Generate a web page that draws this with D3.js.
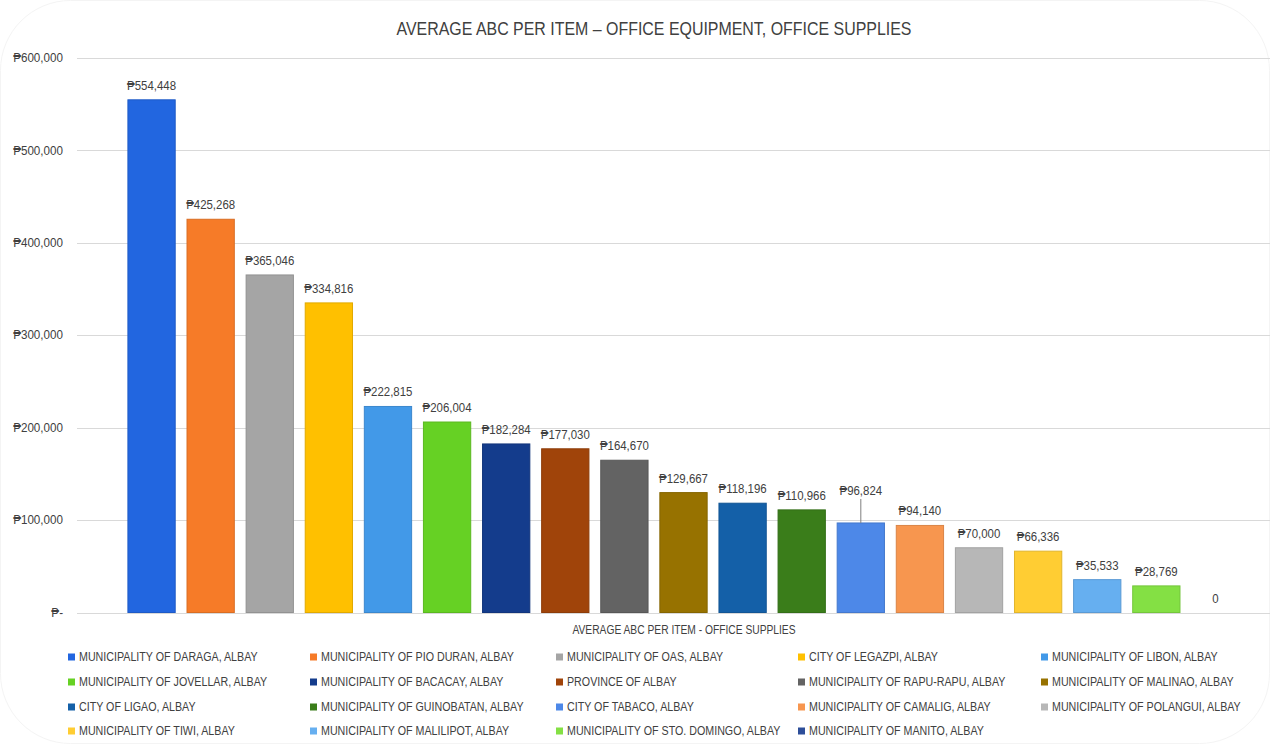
<!DOCTYPE html>
<html>
<head>
<meta charset="utf-8">
<script src="https://cdn.jsdelivr.net/npm/d3@7"></script>
<style>
  html, body { margin: 0; padding: 0; background: #fff; }
  svg { display: block; }
  text { font-family: "Liberation Sans", Arial, sans-serif; fill: #404040; }
</style>
</head>
<body>
<script>
const categories = [
  "MUNICIPALITY OF DARAGA, ALBAY",
  "MUNICIPALITY OF PIO DURAN, ALBAY",
  "MUNICIPALITY OF OAS, ALBAY",
  "CITY OF LEGAZPI, ALBAY",
  "MUNICIPALITY OF LIBON, ALBAY",
  "MUNICIPALITY OF JOVELLAR, ALBAY",
  "MUNICIPALITY OF BACACAY, ALBAY",
  "PROVINCE OF ALBAY",
  "MUNICIPALITY OF RAPU-RAPU, ALBAY",
  "MUNICIPALITY OF MALINAO, ALBAY",
  "CITY OF LIGAO, ALBAY",
  "MUNICIPALITY OF GUINOBATAN, ALBAY",
  "CITY OF TABACO, ALBAY",
  "MUNICIPALITY OF CAMALIG, ALBAY",
  "MUNICIPALITY OF POLANGUI, ALBAY",
  "MUNICIPALITY OF TIWI, ALBAY",
  "MUNICIPALITY OF MALILIPOT, ALBAY",
  "MUNICIPALITY OF STO. DOMINGO, ALBAY",
  "MUNICIPALITY OF MANITO, ALBAY"
];
const values = [554448, 425268, 365046, 334816, 222815, 206004, 182284, 177030, 164670,
                129667, 118196, 110966, 96824, 94140, 70000, 66336, 35533, 28769, 0];
const colors = ["#2266E0", "#F67B28", "#A5A5A5", "#FFC000", "#4299E8", "#66D124", "#143C8C",
                "#A0440A", "#636363", "#977200", "#1460A8", "#3A7D1A", "#4D88E8", "#F7964F",
                "#B7B7B7", "#FFCD33", "#66AFF0", "#84E044", "#2D4E99"];
const yTicks = [0, 100000, 200000, 300000, 400000, 500000, 600000];
const title = "AVERAGE ABC PER ITEM \u2013 OFFICE EQUIPMENT, OFFICE SUPPLIES";
const axisTitle = "AVERAGE ABC PER ITEM - OFFICE SUPPLIES";

const W = 1270, H = 744;
const svg = d3.select("body").append("svg").attr("width", W).attr("height", H);

function condense(sel, f) {
  sel.each(function () {
    const L = this.getComputedTextLength();
    if (L > 0) d3.select(this).attr("textLength", L * f).attr("lengthAdjust", "spacingAndGlyphs");
  });
}

svg.append("rect").attr("x", 0.5).attr("y", 0.5).attr("width", W - 1).attr("height", H - 1)
  .attr("rx", 70).attr("fill", "#fff").attr("stroke", "#f4f4f4");

const y = d3.scaleLinear().domain([0, 600000]).range([612.5, 57.7]);
const x = d3.scaleBand().domain(categories).range([122, 1245]).paddingInner(0.2).paddingOuter(0.1);

const peso = v => v === 0 ? "\u20B1-" : "\u20B1" + d3.format(",")(v);

// gridlines
svg.append("g").selectAll("line").data(yTicks).join("line")
  .attr("x1", 77).attr("x2", W).attr("y1", d => Math.round(y(d)) + 0.5).attr("y2", d => Math.round(y(d)) + 0.5)
  .attr("stroke", "#d9d9d9").attr("stroke-width", 1);

// y axis labels
const yAxis = d3.axisLeft(y).tickValues(yTicks).tickSize(0).tickPadding(0).tickFormat(peso);
const gy = svg.append("g").attr("transform", "translate(63,0)").call(yAxis);
gy.select(".domain").remove();
gy.selectAll("text").attr("font-size", 12).attr("fill", "#404040")
  .style("font-family", "'Liberation Sans', Arial, sans-serif").call(condense, 0.97);

// bars
svg.append("g").selectAll("rect").data(values).join("rect")
  .attr("x", (d, i) => x(categories[i]))
  .attr("y", d => y(d))
  .attr("width", x.bandwidth())
  .attr("height", d => y(0) - y(d))
  .attr("fill", (d, i) => colors[i])
  .attr("stroke", (d, i) => d3.color(colors[i]).darker(0.35))
  .attr("stroke-width", d => d > 0 ? 1 : 0);

// data labels
const labelOffset = (d, i) => i === 12 ? 28 : 10;
svg.append("g").selectAll("text").data(values).join("text")
  .attr("x", (d, i) => x(categories[i]) + x.bandwidth() / 2)
  .attr("y", (d, i) => y(d) - labelOffset(d, i))
  .attr("text-anchor", "middle")
  .attr("font-size", 13)
  .text(d => d === 0 ? "0" : peso(d))
  .call(condense, 0.88);

// leader line for the shifted label
svg.append("g").selectAll("line").data(values.map((d, i) => ({ d, i })).filter(o => o.i === 12)).join("line")
  .attr("x1", o => x(categories[o.i]) + x.bandwidth() / 2)
  .attr("x2", o => x(categories[o.i]) + x.bandwidth() / 2)
  .attr("y1", o => y(o.d) - 24).attr("y2", o => y(o.d))
  .attr("stroke", "#7f7f7f").attr("stroke-width", 1);

// title
svg.append("text").attr("x", 654).attr("y", 35).attr("text-anchor", "middle")
  .attr("font-size", 18).text(title).call(condense, 0.885);

// axis title
svg.append("text").attr("x", 684).attr("y", 634).attr("text-anchor", "middle")
  .attr("font-size", 12.5).text(axisTitle).call(condense, 0.82);

// legend
const colX = [68, 310, 556, 798, 1041];
const rowY = [657, 682, 707, 731];
const lg = svg.append("g").selectAll("g").data(categories).join("g")
  .attr("transform", (d, i) => `translate(${colX[i % 5]},${rowY[Math.floor(i / 5)]})`);
lg.append("rect").attr("x", 0).attr("y", -3.5).attr("width", 7).attr("height", 7)
  .attr("fill", (d, i) => colors[i]);
lg.append("text").attr("x", 11).attr("y", 4.4).attr("font-size", 12).text(d => d).call(condense, 0.89);
</script>
</body>
</html>
